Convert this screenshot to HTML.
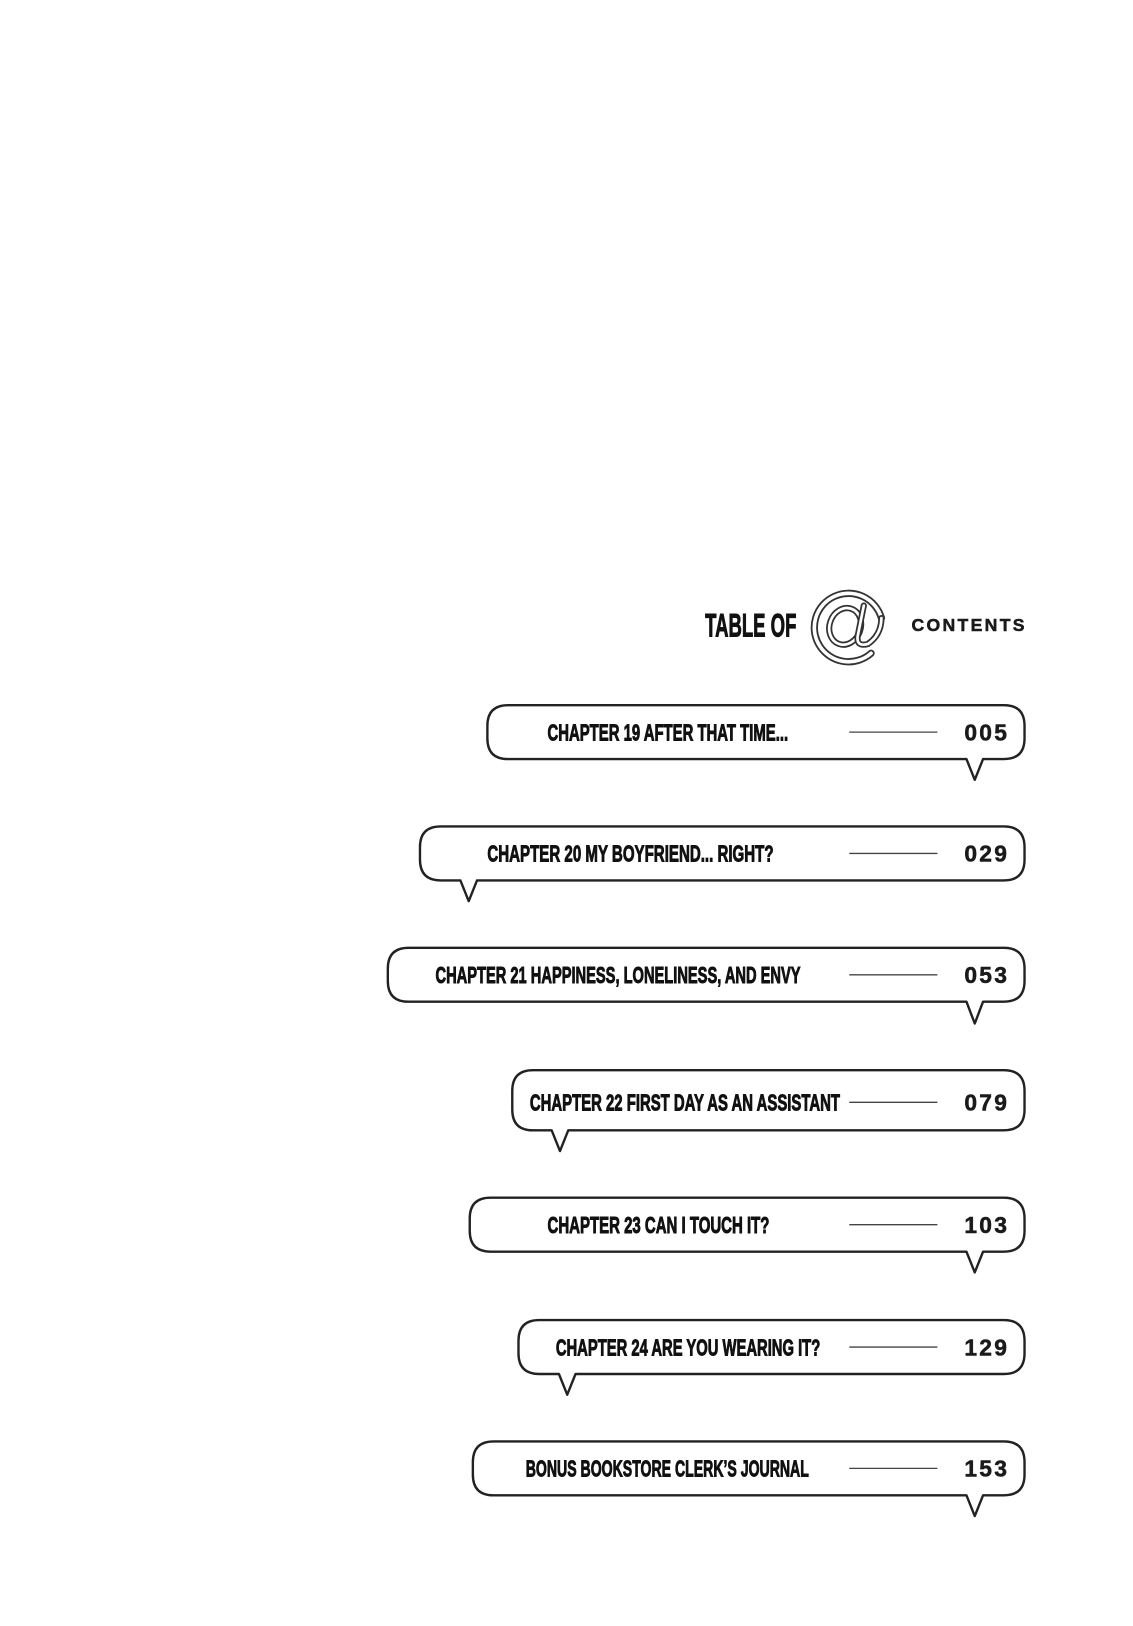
<!DOCTYPE html>
<html><head><meta charset="utf-8"><style>
html,body{margin:0;padding:0;background:#fff;}
svg{display:block;}
.t{font-family:"Liberation Sans Narrow","Liberation Sans",sans-serif;font-weight:bold;fill:#111;stroke:#111;stroke-width:0.9;}
.n{font-family:"Liberation Sans","DejaVu Sans",sans-serif;font-weight:bold;fill:#1a1a1a;stroke:#1a1a1a;stroke-width:0.5;}
</style></head><body>
<svg width="1133" height="1626" viewBox="0 0 1092.6 1568" xmlns="http://www.w3.org/2000/svg">
<rect width="1092.6" height="1568" fill="#fff"/>
<text class="t" x="680" y="614" font-size="31" textLength="88" lengthAdjust="spacingAndGlyphs">TABLE OF</text>
<g fill="none" stroke-linecap="round">
  <path d="M840 630 A33 33 0 1 1 850 596" stroke="#333" stroke-width="7"/>
  <path d="M840 630 A33 33 0 1 1 850 596" stroke="#fff" stroke-width="3.5"/>
  <ellipse cx="815" cy="604" rx="15" ry="18" transform="rotate(20 815 604)" stroke="#333" stroke-width="6"/>
  <ellipse cx="815" cy="604" rx="15" ry="18" transform="rotate(20 815 604)" stroke="#fff" stroke-width="2.6"/>
  <path d="M833 584 L827 614 Q826 624 837 621 Q850 612 850 596" stroke="#333" stroke-width="6"/>
  <path d="M833 584 L827 614 Q826 624 837 621 Q850 612 850 596" stroke="#fff" stroke-width="2.6"/>
</g>
<text class="n" x="879" y="608.5" font-size="17" textLength="109" lengthAdjust="spacing">CONTENTS</text>

<g stroke="#222" stroke-width="2.3" fill="#fff" stroke-linejoin="round">
<path d="M490 680 H968 Q988 680 988 700 V712 Q988 732 968 732 H948 L940 752 L932 732 H490 Q470 732 470 712 V700 Q470 680 490 680 Z"/>
<path d="M425 797 H968 Q988 797 988 817 V829 Q988 849 968 849 H460 L452 869 L444 849 H425 Q405 849 405 829 V817 Q405 797 425 797 Z"/>
<path d="M394 914 H968 Q988 914 988 934 V946 Q988 966 968 966 H948 L940 987 L932 966 H394 Q374 966 374 946 V934 Q374 914 394 914 Z"/>
<path d="M514 1032 H968 Q988 1032 988 1052 V1070 Q988 1090 968 1090 H548 L540 1110 L532 1090 H514 Q494 1090 494 1070 V1052 Q494 1032 514 1032 Z"/>
<path d="M473 1155 H968 Q988 1155 988 1175 V1187 Q988 1207 968 1207 H948 L940 1227 L932 1207 H473 Q453 1207 453 1187 V1175 Q453 1155 473 1155 Z"/>
<path d="M520 1273 H968 Q988 1273 988 1293 V1305 Q988 1325 968 1325 H555 L547 1345 L539 1325 H520 Q500 1325 500 1305 V1293 Q500 1273 520 1273 Z"/>
<path d="M476 1390 H968 Q988 1390 988 1410 V1422 Q988 1442 968 1442 H948 L940 1462 L932 1442 H476 Q456 1442 456 1422 V1410 Q456 1390 476 1390 Z"/>
</g>

<g stroke="#444" stroke-width="1.3">
<line x1="819" y1="706" x2="904" y2="706"/>
<line x1="819" y1="823" x2="904" y2="823"/>
<line x1="819" y1="940" x2="904" y2="940"/>
<line x1="819" y1="1063" x2="904" y2="1063"/>
<line x1="819" y1="1181" x2="904" y2="1181"/>
<line x1="819" y1="1299" x2="904" y2="1299"/>
<line x1="819" y1="1416" x2="904" y2="1416"/>
</g>

<text class="t" x="528" y="714" font-size="22" textLength="232" lengthAdjust="spacingAndGlyphs">CHAPTER 19 AFTER THAT TIME...</text>
<text class="t" x="470" y="831" font-size="22" textLength="276" lengthAdjust="spacingAndGlyphs">CHAPTER 20 MY BOYFRIEND... RIGHT?</text>
<text class="t" x="420" y="948" font-size="22" textLength="352" lengthAdjust="spacingAndGlyphs">CHAPTER 21 HAPPINESS, LONELINESS, AND ENVY</text>
<text class="t" x="511" y="1071" font-size="22" textLength="299" lengthAdjust="spacingAndGlyphs">CHAPTER 22 FIRST DAY AS AN ASSISTANT</text>
<text class="t" x="528" y="1189" font-size="22" textLength="214" lengthAdjust="spacingAndGlyphs">CHAPTER 23 CAN I TOUCH IT?</text>
<text class="t" x="536" y="1307" font-size="22" textLength="255" lengthAdjust="spacingAndGlyphs">CHAPTER 24 ARE YOU WEARING IT?</text>
<text class="t" x="507" y="1424" font-size="22" textLength="273" lengthAdjust="spacingAndGlyphs">BONUS BOOKSTORE CLERK’S JOURNAL</text>

<g class="n" font-size="22">
<text x="930" y="714" textLength="41" lengthAdjust="spacing">005</text>
<text x="930" y="831" textLength="41" lengthAdjust="spacing">029</text>
<text x="930" y="948" textLength="41" lengthAdjust="spacing">053</text>
<text x="930" y="1071" textLength="41" lengthAdjust="spacing">079</text>
<text x="930" y="1189" textLength="41" lengthAdjust="spacing">103</text>
<text x="930" y="1307" textLength="41" lengthAdjust="spacing">129</text>
<text x="930" y="1424" textLength="41" lengthAdjust="spacing">153</text>
</g>
</svg>
</body></html>
